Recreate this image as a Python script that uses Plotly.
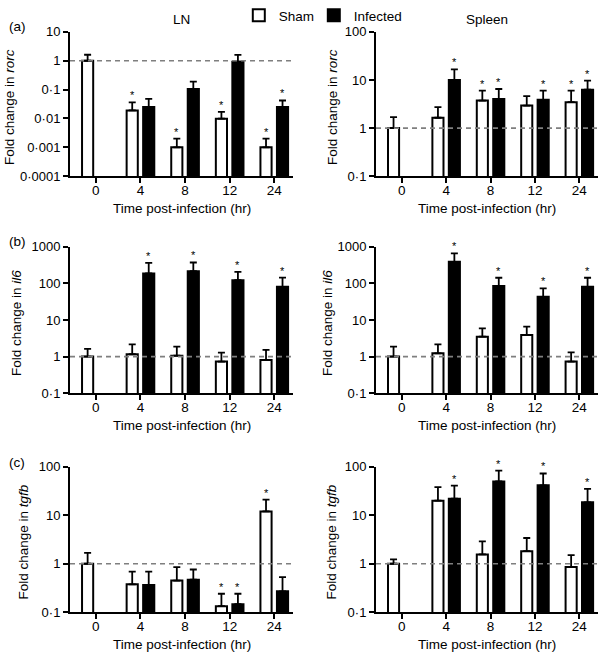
import numpy as np
import plotly.graph_objects as go

# ---------------- data ----------------
times = ["0", "4", "8", "12", "24"]
tissues = ["LN", "Spleen"]
genes = ["rorc", "il6", "tgfb"]
panel_labels = ["(a)", "(b)", "(c)"]
x_title = "Time post-infection (hr)"

# values = bar height (fold change); err = top of upper error bar; sig = asterisk
ln_rorc_sham = [1, 0.019, 0.001, 0.0098, 0.001]
ln_rorc_sham_err = [1.61, 0.036, 0.002, 0.017, 0.002]
ln_rorc_sham_sig = [0, 1, 1, 1, 1]
ln_rorc_inf = [None, 0.025, 0.105, 0.93, 0.025]
ln_rorc_inf_err = [None, 0.048, 0.19, 1.6, 0.042]
ln_rorc_inf_sig = [0, 0, 0, 0, 1]

sp_rorc_sham = [1, 1.64, 3.73, 2.94, 3.45]
sp_rorc_sham_err = [1.69, 2.72, 6.0, 4.6, 6.0]
sp_rorc_sham_sig = [0, 0, 1, 0, 1]
sp_rorc_inf = [None, 10, 4.04, 3.86, 6.3]
sp_rorc_inf_err = [None, 16.6, 6.5, 6.0, 9.7]
sp_rorc_inf_sig = [0, 1, 1, 1, 1]

ln_il6_sham = [1, 1.16, 1.06, 0.73, 0.81]
ln_il6_sham_err = [1.62, 2.17, 1.87, 1.29, 1.52]
ln_il6_sham_sig = [0, 0, 0, 0, 0]
ln_il6_inf = [None, 187, 217, 123, 81]
ln_il6_inf_err = [None, 365, 374, 208, 145]
ln_il6_inf_sig = [0, 1, 1, 1, 1]

sp_il6_sham = [1, 1.23, 3.5, 3.9, 0.73]
sp_il6_sham_err = [1.87, 2.17, 5.9, 6.6, 1.31]
sp_il6_sham_sig = [0, 0, 0, 0, 0]
sp_il6_inf = [None, 390, 85, 43, 81]
sp_il6_inf_err = [None, 660, 143, 73, 143]
sp_il6_inf_sig = [0, 1, 1, 1, 1]

ln_tgfb_sham = [1, 0.376, 0.45, 0.133, 12]
ln_tgfb_sham_err = [1.68, 0.69, 0.85, 0.24, 21]
ln_tgfb_sham_sig = [0, 0, 0, 1, 1]
ln_tgfb_inf = [None, 0.365, 0.47, 0.146, 0.27]
ln_tgfb_inf_err = [None, 0.69, 0.76, 0.24, 0.53]
ln_tgfb_inf_sig = [0, 0, 0, 1, 0]

sp_tgfb_sham = [1, 20, 1.56, 1.82, 0.855]
sp_tgfb_sham_err = [1.23, 38, 2.9, 3.4, 1.5]
sp_tgfb_sham_sig = [0, 0, 0, 0, 0]
sp_tgfb_inf = [None, 22, 50, 41.6, 18.5]
sp_tgfb_inf_err = [None, 41, 84, 73, 35]
sp_tgfb_inf_sig = [0, 1, 1, 1, 1]

# y-axis tick labels (log decades)
ytick_ln_rorc = ["0·0001", "0·001", "0·01", "0·1", "1", "10"]
ytick_sp_rorc = ["0·1", "1", "10", "100"]
ytick_il6 = ["0·1", "1", "10", "100", "1000"]
ytick_tgfb = ["0·1", "1", "10", "100"]

panels = [
    # (row, col, sham, sham_err, sham_sig, inf, inf_err, inf_sig, ticktext, log_min)
    (0, 0, ln_rorc_sham, ln_rorc_sham_err, ln_rorc_sham_sig, ln_rorc_inf, ln_rorc_inf_err, ln_rorc_inf_sig, ytick_ln_rorc, -4),
    (0, 1, sp_rorc_sham, sp_rorc_sham_err, sp_rorc_sham_sig, sp_rorc_inf, sp_rorc_inf_err, sp_rorc_inf_sig, ytick_sp_rorc, -1),
    (1, 0, ln_il6_sham, ln_il6_sham_err, ln_il6_sham_sig, ln_il6_inf, ln_il6_inf_err, ln_il6_inf_sig, ytick_il6, -1),
    (1, 1, sp_il6_sham, sp_il6_sham_err, sp_il6_sham_sig, sp_il6_inf, sp_il6_inf_err, sp_il6_inf_sig, ytick_il6, -1),
    (2, 0, ln_tgfb_sham, ln_tgfb_sham_err, ln_tgfb_sham_sig, ln_tgfb_inf, ln_tgfb_inf_err, ln_tgfb_inf_sig, ytick_tgfb, -1),
    (2, 1, sp_tgfb_sham, sp_tgfb_sham_err, sp_tgfb_sham_sig, sp_tgfb_inf, sp_tgfb_inf_err, sp_tgfb_inf_sig, ytick_tgfb, -1),
]

# ---------------- layout geometry ----------------
W, H = 600, 652
row_px = [(29, 174), (245, 392), (466, 612)]
col_px = [(70, 293), (376, 598)]
ytitle_x = [[9, 332], [16, 327], [24, 332]]
FONT = "Liberation Sans, Arial, Helvetica, sans-serif"
OFF = 0.185
BW = 0.25
XMIN, XMAX = -0.58, 4.42

fig = go.Figure()
layout = dict(
    width=W, height=H, margin=dict(l=0, r=0, t=0, b=0),
    paper_bgcolor="white", plot_bgcolor="white",
    font=dict(family=FONT, size=13, color="black"),
    barmode="overlay", showlegend=True,
    legend=dict(orientation="h", x=0.398, y=1.005, xanchor="left", yanchor="top",
                font=dict(size=13.5), bgcolor="rgba(0,0,0,0)"),
    legend2=dict(orientation="h", x=0.523, y=1.005, xanchor="left", yanchor="top",
                 font=dict(size=13.5), bgcolor="rgba(0,0,0,0)"),
)
annotations = []
idx = np.arange(len(times))
BLACK = dict(color="black")

for k, (r, c, sham, sham_err, sham_sig, inf, inf_err, inf_sig, ticktext, lmin) in enumerate(panels):
    n = k + 1
    xa = "x" if n == 1 else f"x{n}"
    ya = "y" if n == 1 else f"y{n}"
    xkey = "xaxis" if n == 1 else f"xaxis{n}"
    ykey = "yaxis" if n == 1 else f"yaxis{n}"
    lmax = lmin + len(ticktext) - 1
    gene = genes[r]

    # dashed reference line at fold change = 1
    fig.add_trace(go.Scatter(x=[XMIN, XMAX], y=[1, 1], mode="lines", xaxis=xa, yaxis=ya,
                             line=dict(color="#7f7f7f", width=1.6, dash="5px,4px"),
                             showlegend=False, hoverinfo="skip"))

    sham_v = np.array(sham, dtype=float)
    sham_e = np.array(sham_err, dtype=float)
    inf_v = np.array([np.nan if v is None else v for v in inf], dtype=float)
    inf_e = np.array([np.nan if v is None else v for v in inf_err], dtype=float)

    fig.add_trace(go.Bar(
        x=idx - OFF, y=sham_v, width=BW, xaxis=xa, yaxis=ya, name="Sham",
        marker=dict(color="white", line=dict(color="black", width=2)),
        error_y=dict(type="data", symmetric=False, array=sham_e - sham_v,
                     arrayminus=np.zeros(len(times)), color="black", thickness=1.8, width=3.5),
        showlegend=(n == 1), legend="legend"))
    fig.add_trace(go.Bar(
        x=idx + OFF, y=inf_v, width=BW, xaxis=xa, yaxis=ya, name="Infected",
        marker=dict(color="black", line=dict(color="black", width=2)),
        error_y=dict(type="data", symmetric=False, array=inf_e - inf_v,
                     arrayminus=np.zeros(len(times)), color="black", thickness=1.8, width=3.5),
        showlegend=(n == 1), legend="legend2"))

    # significance asterisks
    for i in range(len(times)):
        for sig, e, off in ((sham_sig, sham_e, -OFF), (inf_sig, inf_e, OFF)):
            if sig[i]:
                annotations.append(dict(x=i + off, y=float(np.log10(e[i])), xref=xa, yref=ya,
                                        text="*", showarrow=False, yanchor="bottom",
                                        yshift=-1, font=dict(size=11, color="black")))

    x0, x1 = col_px[c]
    y0, y1 = row_px[r]
    layout[xkey] = dict(
        domain=[x0 / W, x1 / W], anchor=ya, range=[XMIN, XMAX],
        tickvals=list(idx), ticktext=times, ticks="outside", ticklen=5, tickwidth=2,
        tickcolor="black", ticklabelstandoff=-4,
        showline=True, linecolor="black",
        linewidth=2, showgrid=False, zeroline=False, tickfont=dict(size=13.5),
        automargin=False, fixedrange=True)
    layout[ykey] = dict(
        domain=[1 - y1 / H, 1 - y0 / H], anchor=xa, type="log", range=[lmin, lmax],
        tickvals=[10.0 ** p for p in range(lmin, lmax + 1)], ticktext=ticktext,
        ticks="outside", ticklen=5, tickwidth=2, tickcolor="black",
        showline=True, linecolor="black", linewidth=2, showgrid=False, zeroline=False,
        tickfont=dict(size=13),
        automargin=False, fixedrange=True)

    # axis titles
    annotations.append(dict(x=ytitle_x[r][c] / W, y=1 - ((y0 + y1) / 2 + 3) / H,
                            xref="paper", yref="paper", textangle=-90,
                            text=f"Fold change in <i>{gene}</i>", showarrow=False,
                            font=dict(size=13.5, color="black"),
                            xanchor="center", yanchor="middle"))
    annotations.append(dict(x=(x0 + x1) / 2 / W, y=1 - (y1 + 32) / H,
                            xref="paper", yref="paper", text=x_title, showarrow=False,
                            font=dict(size=13.5, color="black"),
                            xanchor="center", yanchor="middle"))

# column titles and panel labels
for c, name in enumerate(tissues):
    x0, x1 = col_px[c]
    annotations.append(dict(x=(x0 + x1) / 2 / W, y=1 - 17 / H, xref="paper", yref="paper",
                            text=name, showarrow=False, font=dict(size=13.5, color="black"),
                            xanchor="center", yanchor="middle"))
for r, lab in enumerate(panel_labels):
    annotations.append(dict(x=17 / W, y=1 - [24, 240, 462][r] / H, xref="paper", yref="paper",
                            text=lab, showarrow=False, font=dict(size=13.5, color="black"),
                            xanchor="center", yanchor="middle"))

layout["annotations"] = annotations
fig.update_layout(**layout)
fig.write_html(
    "out.html",
    config={"displayModeBar": False},
    post_script="document.body.style.margin='0';document.body.style.overflow='hidden';",
)
